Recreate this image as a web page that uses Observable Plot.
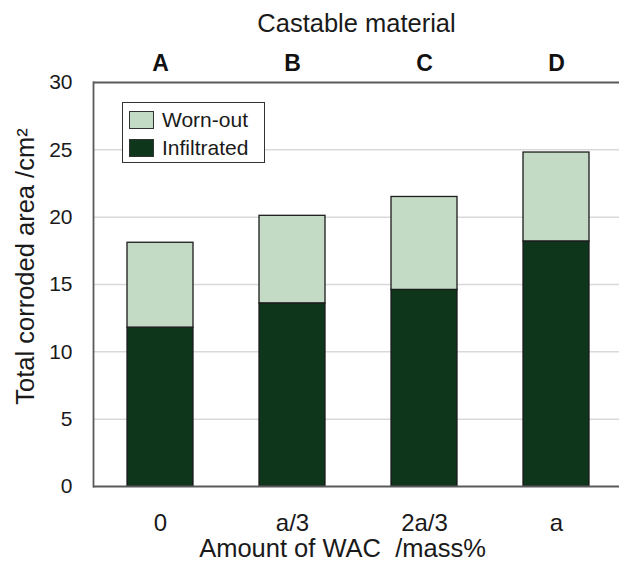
<!DOCTYPE html>
<html>
<head>
<meta charset="utf-8">
<script src="https://cdn.jsdelivr.net/npm/d3@7"></script>
<script src="https://cdn.jsdelivr.net/npm/@observablehq/plot@0.6"></script>
<style>
  html, body { margin: 0; padding: 0; background: #fff; }
  #chart { position: relative; width: 619px; height: 563px; font-family: "Liberation Sans", Arial, sans-serif; }
  .legend { position: absolute; left: 122px; top: 102px; width: 141px; height: 59px; border: 1.5px solid #333; background: #fff; }
  .legend .item { position: absolute; left: 6px; display: flex; align-items: center; font-size: 21px; color: #1a1a1a; }
  .legend .sw { width: 25px; height: 18px; border: 1px solid #333; margin-right: 8px; box-sizing: border-box; }
</style>
</head>
<body>
<div id="chart"></div>
<script>
// WAC amount per castable, and the corroded area split into two layers (cm²)
const amounts = ["0", "a/3", "2a/3", "a"];
const materials = ["A", "B", "C", "D"];
const infiltrated = [11.8, 13.6, 14.6, 18.2];
const wornOut = [6.3, 6.5, 6.9, 6.6];
const layers = ["Infiltrated", "Worn-out"];
const layerColors = ["#0d361b", "#c3dbc4"];
const yTicks = [0, 5, 10, 15, 20, 25, 30];
const gridValues = [5, 10, 15, 20, 25];

const rows = [];
amounts.forEach((a, i) => {
  rows.push({amount: a, layer: "Infiltrated", value: infiltrated[i]});
  rows.push({amount: a, layer: "Worn-out", value: wornOut[i]});
});
const tops = amounts.map((a, i) => ({amount: a, material: materials[i]}));

const plot = Plot.plot({
  width: 619,
  height: 563,
  marginLeft: 93,
  marginRight: 0,
  marginTop: 82,
  marginBottom: 77,
  style: {fontFamily: "'Liberation Sans', Arial, sans-serif", fontSize: "21px", color: "#1a1a1a", background: "#fff"},
  x: {domain: amounts, range: [93, 622], paddingInner: 0.5, paddingOuter: 0.25, label: null},
  y: {domain: [0, 30], label: null},
  color: {domain: layers, range: layerColors},
  marks: [
    Plot.ruleY(gridValues, {stroke: "#d9d9d9", strokeWidth: 1.5}),
    Plot.barY(rows, {x: "amount", y: "value", fill: "layer", stroke: "#1c1c1c", strokeWidth: 1.3}),
    Plot.ruleY([0, 30], {stroke: "#5a5a5a", strokeWidth: 1.8}),
    Plot.frame({anchor: "left", stroke: "#5a5a5a", strokeWidth: 1.8}),
    Plot.axisY({ticks: yTicks, tickSize: 0, tickPadding: 21, fontSize: 21, label: null}),
    Plot.axisX({tickSize: 0, tickPadding: 27, fontSize: 24, label: null}),
    Plot.text(tops, {x: "amount", text: "material", frameAnchor: "top", lineAnchor: "middle", dy: -19, fontSize: 23, fontWeight: "bold", fill: "#111"}),
    Plot.text(["Castable material"], {frameAnchor: "top", lineAnchor: "middle", dy: -59, fontSize: 25.5, fill: "#1a1a1a"}),
    Plot.text(["Amount of WAC  /mass%"], {frameAnchor: "bottom", lineAnchor: "middle", dy: 62, dx: -14, fontSize: 25.5, fill: "#1a1a1a"}),
    Plot.text(["Total corroded area /cm²"], {frameAnchor: "left", textAnchor: "middle", lineAnchor: "middle", rotate: -90, dx: -68, dy: -18, fontSize: 25.5, fill: "#1a1a1a"})
  ]
});

const chart = document.getElementById("chart");
chart.appendChild(plot);

// legend box drawn over the upper-left of the plot area
const legend = document.createElement("div");
legend.className = "legend";
[["Worn-out", layerColors[1], 5], ["Infiltrated", layerColors[0], 33]].forEach(([name, color, top]) => {
  const item = document.createElement("div");
  item.className = "item";
  item.style.top = top + "px";
  const sw = document.createElement("span");
  sw.className = "sw";
  sw.style.background = color;
  item.appendChild(sw);
  item.appendChild(document.createTextNode(name));
  legend.appendChild(item);
});
chart.appendChild(legend);
</script>
</body>
</html>
